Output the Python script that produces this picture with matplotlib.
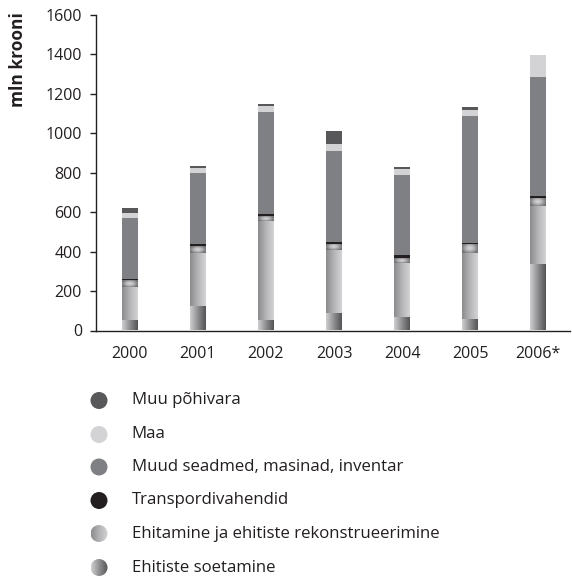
import matplotlib
matplotlib.use("Agg")
import matplotlib.pyplot as plt
import numpy as np
from matplotlib.patches import Circle
from matplotlib.colors import LinearSegmentedColormap

plt.rcParams['font.family'] = ['Open Sans', 'DejaVu Sans']

years = ['2000', '2001', '2002', '2003', '2004', '2005', '2006*']
ehitiste_soetamine = [53, 126, 53, 90, 68, 58, 339]
ehitamine = [169, 269, 504, 318, 276, 335, 292]
ehitamine_lisa = [32, 33, 24, 31, 25, 46, 42]
transpordivahendid = [9, 9, 8, 10, 15, 5, 11]
muud_seadmed = [309, 362, 519, 461, 405, 644, 601]
maa = [25, 25, 30, 36, 31, 30, 112]
muu_pohivara = [24, 10, 11, 66, 9, 15, 0]

yticks = [0, 200, 400, 600, 800, 1000, 1200, 1400, 1600]
ylabel = 'mln krooni'
legend_labels = ['Muu põhivara', 'Maa', 'Muud seadmed, masinad, inventar',
                 'Transpordivahendid', 'Ehitamine ja ehitiste rekonstrueerimine',
                 'Ehitiste soetamine']

C_MUU = '#58585a'
C_MAA = '#d3d3d5'
C_MUUD = '#7f8083'
C_TRANS = '#231f20'

cm_soet = LinearSegmentedColormap.from_list('soet', ['#cfcfd1', '#8e8e90', '#545456'])
cm_ehit = LinearSegmentedColormap.from_list('ehit', ['#8c8c8e', '#b4b4b6', '#d4d4d6'])
cm_rad = LinearSegmentedColormap.from_list('rad', ['#d6d6d8', '#b8b8ba', '#8a8a8c', '#6e6e70'])

W, H = 572, 576
fig = plt.figure(figsize=(W / 100, H / 100), dpi=100)
ax = fig.add_axes([95.5 / W, 1 - 330.5 / H, (570 - 95.5) / W, (330.5 - 15) / H])

x = np.arange(len(years))
bw = 0.235

lin = np.linspace(0, 1, 64)[None, :]
gx, gy = np.meshgrid(np.linspace(-1, 1, 48), np.linspace(-1, 1, 24))
rad = np.clip(np.sqrt((gx * 0.85) ** 2 + (gy * 0.75) ** 2), 0, 1) ** 1.3

def gradient_bars(values, bottom, cmap, img):
    bars = ax.bar(x, values, bw, bottom=bottom, facecolor='none', edgecolor='none', zorder=2)
    for p in bars:
        if p.get_height() <= 0:
            continue
        x0, y0 = p.get_x(), p.get_y()
        ax.imshow(img, cmap=cmap, vmin=0, vmax=1, aspect='auto', interpolation='bicubic',
                  extent=[x0, x0 + p.get_width(), y0, y0 + p.get_height()], zorder=2)
    return bars

bottom = np.zeros(len(years))
gradient_bars(ehitiste_soetamine, bottom, cm_soet, lin)
bottom += ehitiste_soetamine
gradient_bars(ehitamine, bottom, cm_ehit, lin)
bottom += ehitamine
gradient_bars(ehitamine_lisa, bottom, cm_rad, rad)
bottom += ehitamine_lisa
for vals, col in [(transpordivahendid, C_TRANS), (muud_seadmed, C_MUUD),
                  (maa, C_MAA), (muu_pohivara, C_MUU)]:
    ax.bar(x, vals, bw, bottom=bottom, color=col, edgecolor='none', zorder=2)
    bottom += np.array(vals)

ax.set_xlim(-0.507, 6.47)
ax.set_ylim(0, 1600)
ax.set_yticks(yticks)
ax.set_yticklabels([str(v) for v in yticks])
ax.set_xticks(x)
ax.set_xticklabels(years)
for s in ['top', 'right']:
    ax.spines[s].set_visible(False)
for s in ['left', 'bottom']:
    ax.spines[s].set_color('#231f20')
    ax.spines[s].set_linewidth(1.0)
ax.tick_params(axis='y', length=4.3, width=1.0, color='#231f20', pad=5.5,
               labelsize=11.5, labelcolor='#231f20')
ax.tick_params(axis='x', length=0, pad=11, labelsize=11.5, labelcolor='#231f20')

fig.text(18 / W, 1 - 60 / H, ylabel, rotation=90, ha='center', va='center',
         fontsize=12.5, fontweight='bold', color='#231f20')

# legend
lax = fig.add_axes([0, 0, 1, 1])
lax.set_xlim(0, W)
lax.set_ylim(H, 0)
lax.axis('off')
lax.patch.set_alpha(0)
rows_y = [400.5, 434.5, 467, 500.5, 533.5, 567.5]
r = 8.5
fills = [C_MUU, C_MAA, C_MUUD, C_TRANS, ('g', cm_ehit), ('g', cm_soet)]
for yy, lab, f in zip(rows_y, legend_labels, fills):
    if isinstance(f, tuple):
        c = Circle((99, yy), r, facecolor='none', edgecolor='none')
        lax.add_patch(c)
        im = lax.imshow(lin, cmap=f[1], vmin=0, vmax=1, aspect='auto', interpolation='bicubic',
                        extent=[99 - r, 99 + r, yy + r, yy - r])
        im.set_clip_path(c)
    else:
        lax.add_patch(Circle((99, yy), r, facecolor=f, edgecolor='none'))
    lax.text(131.5, yy, lab, ha='left', va='center', fontsize=12.1, color='#231f20')
lax.set_xlim(0, W)
lax.set_ylim(H, 0)

fig.savefig('out.png', dpi=100)
